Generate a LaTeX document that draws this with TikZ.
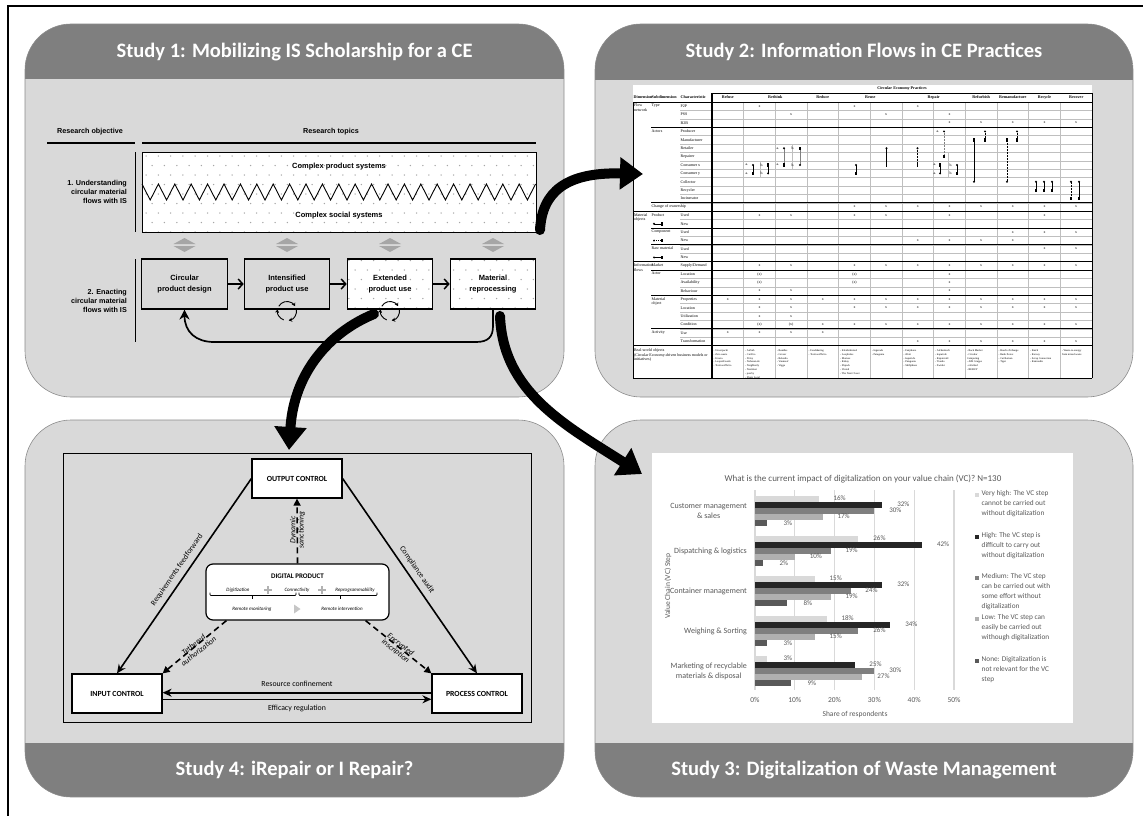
\documentclass[tikz,border=0pt]{standalone}
\usepackage{fontspec}
\setmainfont{Carlito}
\newfontfamily\arialf{Liberation Sans}
\newfontfamily\timesf{Liberation Serif}
\usetikzlibrary{arrows.meta}

\definecolor{headgray}{HTML}{7F7F7F}
\definecolor{bodygray}{HTML}{D9D9D9}
\definecolor{rimgray}{HTML}{8C8C8C}
\definecolor{dotgray}{HTML}{A6A6A6}
\definecolor{trigray}{HTML}{A6A6A6}
\definecolor{chartgray}{HTML}{595959}
\definecolor{gridgray}{HTML}{D9D9D9}
\definecolor{cvh}{HTML}{D9D9D9}
\definecolor{chi}{HTML}{262626}
\definecolor{cmed}{HTML}{7F7F7F}
\definecolor{clow}{HTML}{B0B0B0}
\definecolor{cnone}{HTML}{595959}
\definecolor{tabline}{HTML}{BFBFBF}

% rounded study panel: x1 y1 x2 y2, header band from y3 to y4
\newcommand\studypanel[6]{%
  \fill[bodygray,rounded corners=46pt] (#1,#2) rectangle (#3,#4);
  \begin{scope}
    \clip[rounded corners=46pt] (#1,#2) rectangle (#3,#4);
    \fill[headgray] (#1,#5) rectangle (#3,#6);
  \end{scope}
  \draw[rimgray,line width=0.6pt,rounded corners=46pt] (#1,#2) rectangle (#3,#4);
}
% table helpers: column centre and row centre
\newcommand\tcx[1]{727.83+31.667*#1}
\newcommand\tcy[1]{106.2+8.4*#1}
\newcommand\fdot[2]{\fill (#1,#2) circle (1.1);}
\newcommand\fbar[2]{\fill (#1-0.8,#2-1.7) rectangle (#1+0.8,#2+1.7);}

\begin{document}
\begin{tikzpicture}[x=1pt,y=-1pt,
  paneltitle/.style={text=white,font=\bfseries\fontsize{20.5}{24}\selectfont,inner sep=0pt},
  s1head/.style={font=\arialf\bfseries\fontsize{7.2}{8.6}\selectfont,inner sep=0pt},
  s1txt/.style={font=\arialf\bfseries\fontsize{7.5}{9}\selectfont,align=center,inner sep=0pt},
  s1lab/.style={font=\arialf\bfseries\fontsize{7.2}{9}\selectfont,align=right,anchor=east,inner sep=0pt},
  s1box/.style={draw,line width=1.1pt,minimum width=85.5pt,minimum height=50pt,inner sep=0pt,
    font=\arialf\bfseries\fontsize{7.5}{10.5}\selectfont,align=center},
  s1arr/.style={line width=1.5pt,-{Straight Barb[length=4.5pt,width=10pt]}},
  cyc/.style={line width=0.9pt,-{Stealth[length=3.5pt,width=4pt]}},
  ctrlbox/.style={draw,fill=white,line width=1.2pt,minimum width=90pt,minimum height=39pt,
    inner sep=0pt,font=\bfseries\fontsize{7.8}{9}\selectfont},
  s4line/.style={line width=1.6pt,-{Stealth[length=9pt,width=8pt]}},
  s4dash/.style={line width=1.6pt,dash pattern=on 6pt off 4pt,-{Triangle[length=7pt,width=7pt]}},
  s4lab/.style={font=\fontsize{7.8}{9}\selectfont,inner sep=0pt},
  s4ital/.style={font=\itshape\fontsize{7.8}{8.2}\selectfont,inner sep=0pt,align=center},
  dptiny/.style={font=\itshape\fontsize{5}{6}\selectfont,inner sep=0pt},
  charttitle/.style={font=\fontsize{9}{11}\selectfont,text=chartgray,inner sep=0pt},
  catlab/.style={font=\fontsize{8}{9.8}\selectfont,text=chartgray,align=center,anchor=east,inner sep=0pt},
  vlab/.style={font=\fontsize{7}{8}\selectfont,text=chartgray,inner sep=0pt},
  ticklab/.style={font=\fontsize{7.5}{8}\selectfont,text=chartgray,inner sep=0pt},
  leglab/.style={font=\fontsize{7.3}{10}\selectfont,text=chartgray,align=left,anchor=north west,inner sep=0pt},
  tabhead/.style={font=\timesf\bfseries\fontsize{4.1}{4.5}\selectfont,inner sep=0pt},
  tabtxt/.style={font=\timesf\fontsize{4}{4.4}\selectfont,inner sep=0pt,align=left},
  xm/.style={font=\timesf\fontsize{3.8}{4}\selectfont,inner sep=0pt},
  rwtxt/.style={font=\timesf\fontsize{2.7}{3.8}\selectfont,inner sep=0pt,align=left,anchor=north west},
  brush/.style={line width=10pt,line cap=round,-{Triangle[length=23pt,width=31pt]}}
]
\useasboundingbox (0,0) rectangle (1143,816);
\fill[white] (0,0) rectangle (1143,816);
\draw[line width=2.4pt] (8,816) -- (8,6.2) -- (1143,6.2);

% ---------------- panels
\studypanel{25}{24}{564}{397}{24}{79}
\studypanel{595}{24}{1133}{397}{24}{80}
\studypanel{25}{420}{564}{797}{743}{797}
\studypanel{595}{420}{1133}{797}{743}{797}
\node[paneltitle] (t1) at (294.5,52) {Study 1: Mobilizing IS Scholarship for a CE};
\node[paneltitle] (t2) at (864,52) {Study 2: Information Flows in CE Practices};
\node[paneltitle] (t4) at (294.5,770) {Study 4: iRepair or I Repair?};
\node[paneltitle] (t3) at (864,770) {Study 3: Digitalization of Waste Management};

% ---------------- Study 1: research framework
\node[s1head] (robj) at (90,132) {Research objective};
\node[s1head] (rtop) at (331,132) {Research topics};
\draw[line width=1.1pt] (47,143) -- (135,143);
\draw[line width=1.1pt] (142,143) -- (536,143);
\fill[white] (142,152) rectangle (536,232);
\fill[white] (347,259) rectangle (433,309);
\fill[white] (450,259) rectangle (536,309);
\begin{scope}
  \clip (142,152) rectangle (536,232) (347,259) rectangle (433,309) (450,259) rectangle (536,309);
  \foreach \j in {0,...,17} {
    \foreach \i in {0,...,32} {
      \fill[dotgray] ({146+12.3*\i+6.15*mod(\j,2)},{156+9.5*\j}) circle (0.75);
    }
  }
\end{scope}
\draw[line width=0.9pt] plot[samples at={0,...,48}] ({142+8.2*\x},{192-8*cos(180*\x)});
\node[draw,line width=1pt,minimum width=394pt,minimum height=80pt,inner sep=0pt] (zig) at (339,192) {};
\node[s1txt] (cps) at (339,167) {Complex product systems};
\node[s1txt] (css) at (339,216) {Complex social systems};
\node[s1lab] (obj1) at (127,192) {1. Understanding\\circular material\\flows with IS};
\node[s1lab] (obj2) at (127,301) {2. Enacting\\circular material\\flows with IS};
\draw[line width=1pt] (135,152) -- (135,232);
\draw[line width=1pt] (135,259) -- (135,342);
\foreach \x in {184.5,287,390,493} {
  \fill[trigray] (\x-11,244) -- (\x,238) -- (\x+11,244) -- cycle;
  \fill[trigray] (\x-11,246) -- (\x,252) -- (\x+11,246) -- cycle;
}
\node[s1box] (b1) at (184.5,284) {Circular\\product design};
\node[s1box] (b2) at (287,284) {Intensified\\product use};
\node[s1box] (b3) at (390,284) {Extended\\product use};
\node[s1box] (b4) at (493,284) {Material\\reprocessing};
\draw[s1arr] (b1) -- (b2);
\draw[s1arr] (b2) -- (b3);
\draw[s1arr] (b3) -- (b4);
\draw[line width=1.7pt,-{Stealth[length=10pt,width=10pt]}] (b4.south) -- (493,326)
  .. controls (493,337) and (488,342) .. (476,342) -- (214,342)
  .. controls (196,342) and (184.5,332) .. (b1.south);
\foreach \cc in {287,390} {
  \draw[cyc] ([shift={(\cc,311)}]-150:9.5) arc[start angle=-150,end angle=-30,radius=9.5];
  \draw[cyc] ([shift={(\cc,311)}]-10:9.5) arc[start angle=-10,end angle=80,radius=9.5];
  \draw[cyc] ([shift={(\cc,311)}]110:9.5) arc[start angle=110,end angle=190,radius=9.5];
}

% ---------------- Study 2: information flow table
\fill[white] (633,85) rectangle (1092,378);
\node[tabhead] (chead) at (902,89) {Circular Economy Practices};
\draw[line width=0.9pt] (712,93) -- (1092,93);
\node[tabhead,anchor=west] (hdim) at (633.5,97.5) {Dimension};
\node[tabhead,anchor=west] (hsub) at (651.5,97.5) {Subdimension};
\node[tabhead,anchor=west] (hchar) at (680.5,97.5) {Characteristic};
\foreach \x/\t in {727.8/Refuse,775.3/Rethink,822.8/Reduce,870.3/Reuse,933.7/Repair,981.2/Refurbish,1012.8/Remanufacture,1044.5/Recycle,1076.2/Recover}
  \node[tabhead] at (\x,97.5) {\t};
\foreach \r in {1,...,28}
  \draw[tabline,line width=0.4pt] (680,{102+8.4*\r}) -- (1092,{102+8.4*\r});
\foreach \k in {1,...,11}
  \draw[tabline,line width=0.5pt] ({712+31.667*\k},102) -- ({712+31.667*\k},378);
\foreach \r in {3,12,15,17,20,23,27}
  \draw[line width=0.9pt] (651,{102+8.4*\r}) -- (1092,{102+8.4*\r});
\foreach \r in {0,13,19,29}
  \draw[line width=0.9pt] (633,{102+8.4*\r}) -- (1092,{102+8.4*\r});
\draw[line width=0.9pt] (633,378) -- (1092,378);
\draw[line width=0.9pt] (633,102) -- (633,378);
\draw[line width=1.1pt] (712,93) -- (712,378);
\draw[line width=0.9pt] (1092,93) -- (1092,378);
% row labels
\foreach \r/\t in {0/P2P,1/PSS,2/B2B,3/Producer,4/Manufacturer,5/Retailer,6/Repairer,7/Consumer x,8/Consumer y,9/Collector,10/Recycler,11/Incinerator,13/Used,14/New,15/Used,16/New,17/Used,18/New,19/{Supply/Demand},20/Location,21/Availability,22/Behaviour,23/Properties,24/Location,25/Utilization,26/Condition,27/Use,28/Transformation}
  \node[tabtxt,anchor=west] at (680.5,{\tcy{\r}}) {\t};
\foreach \r/\t in {0/Type,3/Actors,13/Product,15/Component,17/Raw material,19/Market,20/Actor,23/{Material\\object},27/Activity}
  \node[tabtxt,anchor=north west] at (651.5,{102+8.4*\r+2}) {\t};
\node[tabtxt,anchor=west] (chown) at (651.5,{\tcy{12}}) {Change of ownership};
\foreach \r/\t in {0/{Flow\\network},13/{Material\\objects},19/{Information\\flows}}
  \node[tabtxt,anchor=north west] at (633.8,{102+8.4*\r+2}) {\t};
\draw[line width=0.5pt] (654,{\tcy{14}}) -- (662,{\tcy{14}});
\draw[line width=0.5pt,dash pattern=on 1pt off 1pt] (654,{\tcy{16}}) -- (662,{\tcy{16}});
\draw[line width=0.5pt] (654,{\tcy{18}}) -- (662,{\tcy{18}});
\foreach \r in {14,16,18} { \fdot{654}{\tcy{\r}} \fbar{662}{\tcy{\r}} }
\node[tabtxt,anchor=north west] (rwo) at (633.8,349) {Real-world objects\\(Circular Economy-driven business models or\\initiatives)};
% example initiatives per practice column
\foreach \c/\t in {
  0/{- Unverpackt\\- Zero waste\\- Ecosia\\- LoopedGoods\\- TooGoodToGo},
  1/{- Airbnb\\- Car2Go\\- Drivy\\- Nebenan.de\\- Neighborly\\- Nextdoor\\- peerby\\- Share Local},
  2/{- Bundles\\- Grover\\- Relenda\\- Vanmoof\\- Vigga},
  3/{- Foodsharing\\- TooGoodToGo},
  4/{- Kleiderkreisel\\- Loopholes\\- Momox\\- Rebuy\\- Shpock\\- Vinted\\- The Next Closet},
  5/{- Ingerade\\- Patagonia},
  6/{- Fairphone\\- iFixit\\- kaputt.de\\- Patagonia\\- Shiftphone},
  7/{- Alchemisch\\- kaputt.de\\- Repaircafé\\- Tiondo\\- Zwinkr},
  8/{- Back Market\\- Circular\\Computing\\- AfB Gruppe\\- refurbed\\- REBUY},
  9/{- Bosch eXchange\\- Rank Xerox\\- Cat Reman\\- Tiger},
  10/{- Batch\\- Recosy\\- Scrap Connection\\- Remondis},
  11/{- Waste-to-energy\\from mixed waste}}
  \node[rwtxt] at ({713.5+31.667*\c},349.5) {\t};
% cell marks
\foreach \r/\cl in {0/{1,4,6},1/{2,5,7},2/{7,8,9,10,11},12/{4,5,6,7,8,9,10,11},13/{1,2,4,5,7,10},15/{9,10,11},16/{6,7,8,9},17/{10,11},19/{1,2,4,5,6,7,8,9,10,11},20/{7},21/{7},22/{1,2,7},23/{0,1,2,3,4,5,6,7,8,9,10,11},24/{1,2,4,5,6,7,8,9,10,11},25/{1,2},26/{3,4,5,6,7,8,9,10,11},27/{0,1,2,3},28/{6,7,8,9,10,11}}
  \foreach \c in \cl { \node[xm] at ({\tcx{\c}},{\tcy{\r}}) {x}; };
\foreach \c/\r in {1/20,4/20,1/21,4/21,1/26,2/26}
  \node[xm] at ({\tcx{\c}},{\tcy{\r}}) {(x)};
% actor flows
\begin{scope}[line width=0.5pt]
  \draw[tabline] (760.5,{102+8.4*7}) -- (760.5,{102+8.4*9});
  \draw[tabline] (792.5,{102+8.4*5}) -- (792.5,{102+8.4*8});
  \draw[tabline] (948.5,{102+8.4*6}) -- (948.5,{102+8.4*9});
  \foreach \x/\r/\t in {747/7/a.,762/7/b.,747/8/a.,762/8/b.,778/5/a.,793/5/b.,778/7/a.,793/7/b.,935/7/a.,935/8/a.,951/7/b.,951/8/b.,938/3/a.}
    \node[xm] at (\x,{\tcy{\r}}) {\t};
  \draw (753,{\tcy7}) -- (753,{\tcy8}); \fdot{753}{\tcy7} \fbar{753}{\tcy8}
  \draw (768,{\tcy7}) -- (768,{\tcy8}); \fbar{768}{\tcy7} \fdot{768}{\tcy8}
  \draw[gray] (784,{\tcy5}) -- (784,{\tcy7}); \fdot{784}{\tcy5} \fbar{784}{\tcy7}
  \draw[gray] (800,{\tcy5}) -- (800,{\tcy7}); \fbar{800}{\tcy5} \fdot{800}{\tcy7}
  \draw (856,{\tcy7}) -- (856,{\tcy8}); \fdot{856}{\tcy7} \fbar{856}{\tcy8}
  \draw (886.5,{\tcy5}) -- (886.5,{\tcy7}); \fdot{886.5}{\tcy5} \fbar{886.5}{\tcy7}
  \draw[densely dotted] (917.5,{\tcy5}) -- (917.5,{\tcy7}); \fdot{917.5}{\tcy5} \fbar{917.5}{\tcy7}
  \draw[gray,densely dotted] (944,{\tcy3}) -- (944,{\tcy6}); \fdot{944}{\tcy3} \fbar{944}{\tcy6}
  \draw (940,{\tcy7}) -- (940,{\tcy8}); \fbar{940}{\tcy7} \fdot{940}{\tcy8}
  \draw (957,{\tcy7}) -- (957,{\tcy8}); \fdot{957}{\tcy7} \fbar{957}{\tcy8}
  \draw[densely dotted] (985,{\tcy3}) -- (985,{\tcy4}); \fdot{985}{\tcy3} \fbar{985}{\tcy4}
  \draw (974,{\tcy4}) -- (974,{\tcy9}); \fbar{974}{\tcy4} \fdot{974}{\tcy9}
  \draw[densely dotted] (1017,{\tcy3}) -- (1017,{\tcy4}); \fdot{1017}{\tcy3} \fbar{1017}{\tcy4}
  \draw[densely dotted] (1007,{\tcy4}) -- (1007,{\tcy9}); \fbar{1007}{\tcy4} \fdot{1007}{\tcy9}
  \foreach \x in {1036,1044,1052} { \draw (\x,{\tcy9}) -- (\x,{\tcy{10}}); \fdot{\x}{\tcy9} \fbar{\x}{\tcy{10}} }
  \draw[densely dotted] (1071,{\tcy9}) -- (1071,{\tcy{11}}); \fdot{1071}{\tcy9} \fbar{1071}{\tcy{11}}
  \draw (1079,{\tcy9}) -- (1079,{\tcy{11}}); \fdot{1079}{\tcy9} \fbar{1079}{\tcy{11}}
\end{scope}

% ---------------- Study 3: survey chart
\fill[white] (652,453) rectangle (1073,723);
\node[charttitle] (ctitle) at (863,479) {What is the current impact of digitalization on your value chain (VC)? N=130};
\foreach \k [evaluate=\k as \pc using int(10*\k)] in {0,...,5} {
  \draw[gridgray,line width=1.3pt] ({755+39.8*\k},490) -- ({755+39.8*\k},690);
  \node[ticklab] at ({755+39.8*\k},700) {\pc\%};
}
\foreach \k/\va/\vb/\vc/\vd/\ve in {0/16/32/30/17/3,1/26/42/19/10/2,2/15/32/24/19/8,3/18/34/26/15/3,4/3/25/30/27/9} {
  \pgfmathsetmacro\yc{511+40*\k}
  \fill[cvh] (755,\yc-14.8) rectangle ({755+3.98*\va},\yc-9.2);
  \fill[chi] (755,\yc-8.8) rectangle ({755+3.98*\vb},\yc-3.2);
  \fill[cmed] (755,\yc-2.8) rectangle ({755+3.98*\vc},\yc+2.8);
  \fill[clow] (755,\yc+3.2) rectangle ({755+3.98*\vd},\yc+8.8);
  \fill[cnone] (755,\yc+9.2) rectangle ({755+3.98*\ve},\yc+14.8);
  \node[vlab] at ({755+3.98*\va+21},\yc-13) {\va\%};
  \node[vlab] at ({755+3.98*\vb+21},\yc-7) {\vb\%};
  \node[vlab] at ({755+3.98*\vc+21},\yc-1) {\vc\%};
  \node[vlab] at ({755+3.98*\vd+21},\yc+5) {\vd\%};
  \node[vlab] at ({755+3.98*\ve+21},\yc+12) {\ve\%};
}
\node[catlab] (cat1) at (747,511) {Customer management\\\& sales};
\node[catlab] (cat2) at (747,551) {Dispatching \& logistics};
\node[catlab] (cat3) at (747,591) {Container management};
\node[catlab] (cat4) at (747,631) {Weighing \& Sorting};
\node[catlab] (cat5) at (747,671) {Marketing of recyclable\\materials \& disposal};
\node[ticklab,rotate=90] (yax) at (668,586) {Value Chain (VC) Step};
\node[ticklab] (xax) at (855,714) {Share of respondents};
\foreach \y/\c/\t in {495/cvh/{Very high: The VC step\\cannot be carried out\\without digitalization},
                      537/chi/{High: The VC step is\\difficult to carry out\\without digitalization},
                      578/cmed/{Medium: The VC step\\can be carried out with\\some effort without\\digitalization},
                      619/clow/{Low: The VC step can\\easily be carried out\\withough digitalization},
                      661/cnone/{None: Digitalization is\\not relevant for the VC\\step}} {
  \fill[\c] (975,\y-2.2) rectangle (979.4,\y+2.2);
  \node[leglab] at (981.5,\y-4.6) {\t};
}

% ---------------- Study 4: control framework
\draw[line width=1pt] (63,453) rectangle (531,722);
\node[ctrlbox] (outc) at (297,478.5) {OUTPUT CONTROL};
\node[ctrlbox] (inc) at (117,693.5) {INPUT CONTROL};
\node[ctrlbox] (proc) at (477,693.5) {PROCESS CONTROL};
\node[draw,fill=white,rounded corners=7pt,line width=1.2pt,minimum width=183pt,minimum height=56pt,inner sep=0pt] (dp) at (297.5,592) {};
\node[font=\bfseries\fontsize{7}{8}\selectfont,inner sep=0pt] (dpt) at (297.5,576.5) {DIGITAL PRODUCT};
\node[dptiny] (dig) at (238,590) {Digitization};
\node[dptiny] (con) at (297,590) {Connectivity};
\node[dptiny] (rep) at (355,590) {Reprogrammability};
\foreach \x in {268,322}
  \draw[gray!60,line width=1.3pt] (\x-4,590) -- (\x+4,590) (\x,586) -- (\x,594);
\draw[line width=0.7pt,rounded corners=0.8pt] (210,592.5) -- (210,595.5) -- (296,595.5) -- (296,592.5);
\draw[line width=0.7pt] (252,595.5) -- (252,599);
\draw[line width=0.7pt,rounded corners=0.8pt] (299,592.5) -- (299,595.5) -- (377,595.5) -- (377,592.5);
\draw[line width=0.7pt] (340,595.5) -- (340,599);
\node[dptiny] (rmon) at (252,609) {Remote monitoring};
\node[dptiny] (rint) at (342,609) {Remote intervention};
\fill[gray!45] (294,604.5) -- (300.5,609) -- (294,613.5) -- cycle;

\draw[s4line] (outc.west) -- (inc.north);
\draw[s4line] (outc.east) -- (proc.north);
\draw[s4dash] (dp.north) -- (outc.south);
\draw[s4dash] ([xshift=21pt]dp.south west) -- (inc.north east);
\draw[s4dash] ([xshift=-24pt]dp.south east) -- (proc.north west);
\draw[s4line] (proc.west |- 0,692.7) -- (inc.east |- 0,692.7);
\draw[s4line] (inc.east |- 0,699.3) -- (proc.west |- 0,699.3);
\node[s4lab,rotate=55.4] (rff) at (177,570) {Requirements feedforward};
\node[s4lab,rotate=-55.4] (caud) at (417,570) {Compliance audit};
\node[s4ital,rotate=90] (dsan) at (297.5,530) {Dynamic\\sanctioning};
\node[s4ital,rotate=38.6] (tath) at (196,648) {Tethered\\authorization};
\node[s4ital,rotate=-38.1] (einc) at (398,648) {Encrypted\\inscription};
\node[s4lab] (rconf) at (297,684) {Resource confinement};
\node[s4lab] (ereg) at (297,708) {Efficacy regulation};

% ---------------- brush arrows linking the studies
\coordinate (brA0) at (540,230);
\coordinate (brA1) at (643,174);
\coordinate (brB0) at (374,314);
\coordinate (brB1) at (289,450);
\coordinate (brC0) at (500,316);
\coordinate (brC1) at (642,474);
\draw[brush] (brA0) .. controls (542,192) and (566,172) .. (brA1);
\draw[brush] (brB0) .. controls (330,332) and (294,372) .. (brB1);
\draw[brush] (brC0) .. controls (503,392) and (565,425) .. (brC1);
\end{tikzpicture}
\end{document}
